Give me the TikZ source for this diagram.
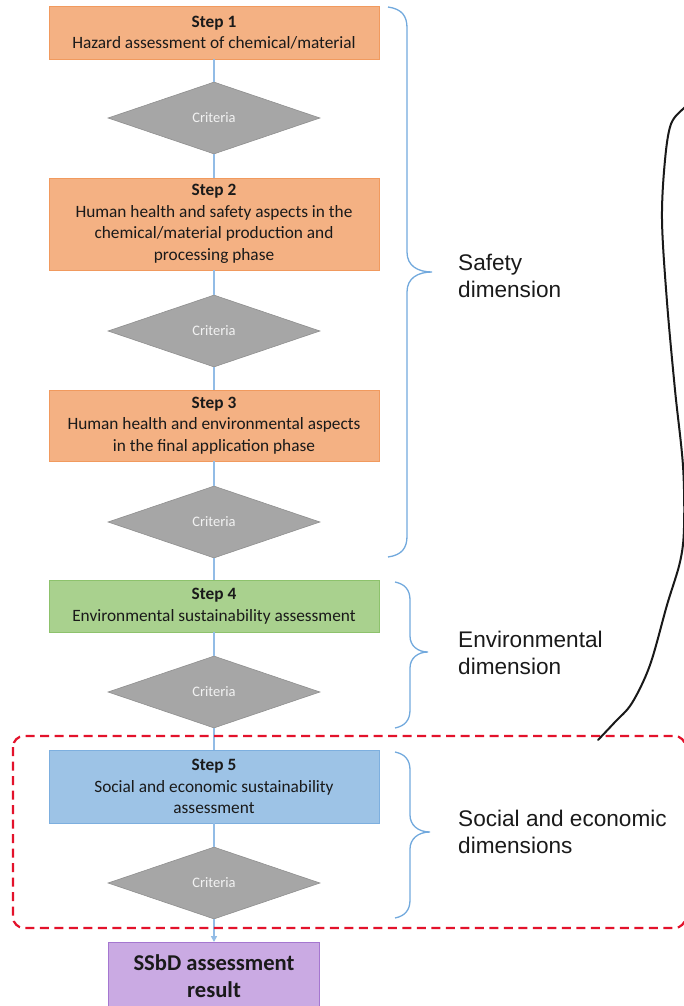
\documentclass[tikz,border=0pt]{standalone}
\usepackage{fontspec}
\setmainfont{Carlito}
\newfontfamily\arialfont{Liberation Sans}
\usetikzlibrary{shapes.geometric,arrows.meta}
\definecolor{orfill}{HTML}{F4B183}
\definecolor{ordraw}{HTML}{F19A5E}
\definecolor{grfill}{HTML}{A9D18E}
\definecolor{grdraw}{HTML}{8DC26C}
\definecolor{blfill}{HTML}{9DC3E6}
\definecolor{bldraw}{HTML}{7DAFDF}
\definecolor{pufill}{HTML}{CAAAE3}
\definecolor{pudraw}{HTML}{A577D0}
\definecolor{dmfill}{HTML}{A6A6A6}
\definecolor{dmdraw}{HTML}{8F8F8F}
\definecolor{crtext}{HTML}{F2F2F2}
\definecolor{conn}{HTML}{92BCE6}
\definecolor{bracecol}{HTML}{72A9DD}
\definecolor{redline}{HTML}{E3122B}
\definecolor{txt}{HTML}{1A1A1A}
\tikzset{
  stepbox/.style={draw, line width=0.9pt, minimum width=330pt, inner sep=0pt, align=center, text=txt,
    font=\fontsize{17.3}{21.5}\selectfont},
  critbox/.style={shape=diamond, fill=dmfill, draw=dmdraw, line width=0.6pt, shape aspect=2.94,
    minimum width=212pt, minimum height=72pt, inner sep=0pt, text=crtext, font=\fontsize{14.5}{16}\selectfont},
  flow/.style={draw=conn, line width=1.8pt},
  bracepath/.style={draw=bracecol, line width=1.3pt},
  dimlabel/.style={anchor=west, align=left, text=txt, inner sep=0pt,
    font=\arialfont\fontsize{22.6}{27}\selectfont},
}
\begin{document}
\begin{tikzpicture}[x=1pt,y=-1pt]
\useasboundingbox (0,0) rectangle (684,1006);
% steps
\node[stepbox, fill=orfill, draw=ordraw, minimum height=53pt] (s1) at (214,32.5)
  {\textbf{Step 1}\\Hazard assessment of chemical/material};
\node[critbox] (c1) at (214,118) {Criteria};
\node[stepbox, fill=orfill, draw=ordraw, minimum height=92pt] (s2) at (214,224)
  {\textbf{Step 2}\\Human health and safety aspects in the\\chemical/material production and\\processing phase};
\node[critbox] (c2) at (214,331) {Criteria};
\node[stepbox, fill=orfill, draw=ordraw, minimum height=71pt] (s3) at (214,425.5)
  {\textbf{Step 3}\\Human health and environmental aspects\\in the final application phase};
\node[critbox] (c3) at (214,522) {Criteria};
\node[stepbox, fill=grfill, draw=grdraw, minimum height=52pt] (s4) at (214,606)
  {\textbf{Step 4}\\Environmental sustainability assessment};
\node[critbox] (c4) at (214,692) {Criteria};
\node[stepbox, fill=blfill, draw=bldraw, minimum height=73pt] (s5) at (214,786.5)
  {\textbf{Step 5}\\Social and economic sustainability\\assessment};
\node[critbox] (c5) at (214,883) {Criteria};
\node[draw=pudraw, fill=pufill, line width=0.9pt, minimum width=211pt, minimum height=68pt, inner sep=0pt,
  align=center, text=txt, anchor=north, font=\bfseries\fontsize{22.6}{27}\selectfont] (res) at (214,942)
  {SSbD assessment\\result};
% connectors
\draw[flow] (s1) -- (c1);
\draw[flow] (c1) -- (s2);
\draw[flow] (s2) -- (c2);
\draw[flow] (c2) -- (s3);
\draw[flow] (s3) -- (c3);
\draw[flow] (c3) -- (s4);
\draw[flow] (s4) -- (c4);
\draw[flow] (c4) -- (s5);
\draw[flow] (s5) -- (c5);
\draw[flow, -{Triangle[length=6pt,width=6pt]}] (c5) -- (res);
% braces
\draw[bracepath] (388,7) .. controls (402,9) and (407,16) .. (407,28) -- (407,252)
  .. controls (407,266) and (418,272) .. (432,272)
  .. controls (418,272) and (407,278) .. (407,292) -- (407,536)
  .. controls (407,548) and (402,555) .. (388,557);
\draw[bracepath] (395,582) .. controls (405,584) and (410,590) .. (410,600) -- (410,636)
  .. controls (410,646) and (418,652) .. (428,652)
  .. controls (418,652) and (410,658) .. (410,668) -- (410,710)
  .. controls (410,720) and (405,726) .. (395,728);
\draw[bracepath] (395,752) .. controls (405,754) and (410,760) .. (410,770) -- (410,815)
  .. controls (410,825) and (418,832) .. (430,832)
  .. controls (418,832) and (410,839) .. (410,849) -- (410,900)
  .. controls (410,910) and (405,916) .. (395,918);
% labels
\node[dimlabel] (l1) at (458,276) {Safety\\dimension};
\node[dimlabel] (l2) at (458,653) {Environmental\\dimension};
\node[dimlabel] (l3) at (458,832) {Social and economic\\dimensions};
% red dashed region
\draw[redline, line width=2.2pt, dash pattern=on 9pt off 5.5pt, rounded corners=11pt]
  (13,736) rectangle (685.5,928);
% black curve
\draw[black!90, line width=2pt, line cap=round] plot[smooth, tension=0.55] coordinates
  {(598,740) (615,722) (632,703) (650,665) (667,605) (680,562) (684,528) (683,466)
   (675,390) (667,302) (662,220) (665,160) (671,124) (684,108) (692,102)};
\end{tikzpicture}
\end{document}
